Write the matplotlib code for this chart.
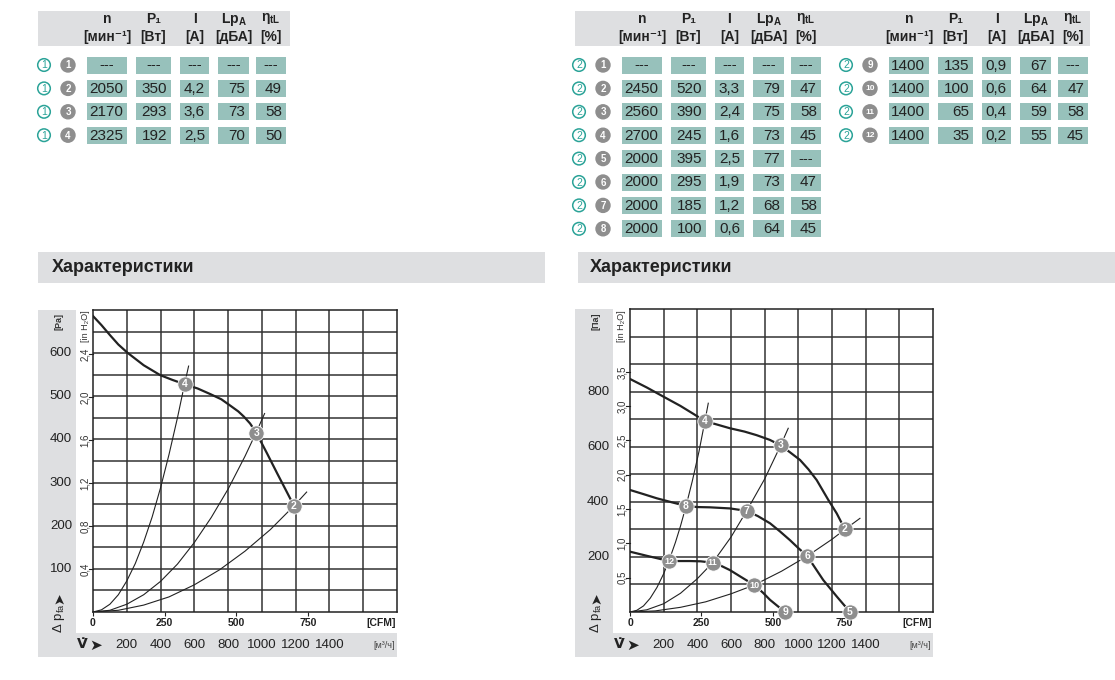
import matplotlib
matplotlib.use("Agg")
import matplotlib.pyplot as plt
import matplotlib.transforms as mtrans
from matplotlib import font_manager
from matplotlib.patches import Rectangle, Circle

names = set(f.name for f in font_manager.fontManager.ttflist)
NARROW = "Liberation Sans Narrow" if "Liberation Sans Narrow" in names else "Liberation Sans"
SANS = "Liberation Sans"

plt.rcParams["font.family"] = [SANS, "DejaVu Sans"]
plt.rcParams["mathtext.fontset"] = "custom"
plt.rcParams["mathtext.rm"] = NARROW
plt.rcParams["mathtext.bf"] = NARROW + ":bold"
plt.rcParams["mathtext.it"] = NARROW + ":italic"

TEAL = "#2ba398"
CELL = "#97c1bb"
BAND = "#dedfe1"
DOT = "#8e8e8e"
INK = "#222222"
M3H_PER_CFM = 1.699
PA_PER_INH2O = 249.09

# ---------------- tables ----------------
t1_ids = ["1", "2", "3", "4"]
t1_n = ["---", "2050", "2170", "2325"]
t1_p = ["---", "350", "293", "192"]
t1_i = ["---", "4,2", "3,6", "2,5"]
t1_lp = ["---", "75", "73", "70"]
t1_eta = ["---", "49", "58", "50"]

t2_ids = ["1", "2", "3", "4", "5", "6", "7", "8"]
t2_n = ["---", "2450", "2560", "2700", "2000", "2000", "2000", "2000"]
t2_p = ["---", "520", "390", "245", "395", "295", "185", "100"]
t2_i = ["---", "3,3", "2,4", "1,6", "2,5", "1,9", "1,2", "0,6"]
t2_lp = ["---", "79", "75", "73", "77", "73", "68", "64"]
t2_eta = ["---", "47", "58", "45", "---", "47", "58", "45"]

t3_ids = ["9", "10", "11", "12"]
t3_n = ["1400", "1400", "1400", "1400"]
t3_p = ["135", "100", "65", "35"]
t3_i = ["0,9", "0,6", "0,4", "0,2"]
t3_lp = ["67", "64", "59", "55"]
t3_eta = ["---", "47", "58", "45"]

head_top = ["n", "P₁", "I", "Lp$_\\mathbf{A}$", "η$_\\mathbf{tL}$"]
head_bot = ["[мин⁻¹]", "[Вт]", "[A]", "[дБА]", "[%]"]

# ---------------- chart 1 (x in m3/h, y in Pa) ----------------
c1_v = [0, 50, 100, 150, 204, 300, 398, 470, 542, 620, 695, 760, 814, 860, 893, 930, 966, 1030, 1091, 1140, 1190]
c1_p = [686, 665, 642, 620, 601, 572, 549, 538, 528, 518, 505, 493, 478, 465, 453, 437, 416, 368, 321, 284, 246]
c1_s4_v = [0, 50, 100, 150, 200, 250, 300, 350, 400, 450, 500, 542, 566]
c1_s4_p = [0, 5, 18, 40, 72, 112, 162, 220, 288, 365, 450, 528, 570]
c1_s3_v = [0, 100, 200, 300, 400, 500, 600, 700, 800, 900, 966, 1016]
c1_s3_p = [0, 4, 18, 40, 71, 111, 161, 219, 285, 361, 416, 460]
c1_s2_v = [0, 150, 300, 450, 600, 750, 900, 1050, 1190, 1265]
c1_s2_p = [0, 4, 16, 35, 63, 98, 141, 191, 246, 278]
c1_pt_v = [542, 966, 1190]
c1_pt_p = [528, 416, 246]
c1_pt_lab = ["4", "3", "2"]

# ---------------- chart 2 ----------------
c2_top_v = [0, 100, 198, 300, 380, 445, 520, 594, 680, 752, 830, 895, 950, 1010, 1060, 1109, 1178, 1228, 1277]
c2_top_p = [846, 815, 782, 748, 718, 693, 680, 667, 655, 642, 625, 605, 580, 552, 518, 479, 407, 358, 300]
c2_mid_v = [0, 80, 158, 250, 333, 400, 475, 594, 693, 760, 832, 890, 950, 1000, 1053, 1100, 1148, 1230, 1307]
c2_mid_p = [443, 428, 413, 398, 385, 381, 380, 376, 367, 348, 322, 293, 261, 232, 203, 160, 116, 55, 0]
c2_low_v = [0, 100, 232, 300, 356, 420, 491, 540, 594, 660, 738, 790, 832, 880, 921]
c2_low_p = [219, 204, 185, 185, 185, 184, 179, 168, 152, 127, 98, 70, 44, 20, 0]
c2_sa_v = [0, 40, 80, 120, 160, 200, 232, 270, 300, 333, 370, 410, 445, 465]
c2_sa_p = [0, 6, 22, 50, 89, 139, 187, 253, 312, 385, 475, 583, 693, 758]
c2_sb_v = [0, 100, 200, 300, 400, 491, 600, 693, 800, 895, 940]
c2_sb_p = [0, 8, 30, 68, 121, 179, 272, 367, 483, 605, 667]
c2_sc_v = [0, 150, 300, 450, 600, 738, 900, 1053, 1200, 1277, 1366]
c2_sc_p = [0, 4, 17, 37, 66, 98, 148, 203, 264, 300, 340]
c2_pt_v = [445, 895, 1277, 333, 693, 1053, 1307, 232, 491, 738, 921]
c2_pt_p = [693, 605, 300, 385, 367, 203, 0, 185, 179, 98, 0]
c2_pt_lab = ["4", "3", "2", "8", "7", "6", "5", "12", "11", "10", "9"]

cfm_ticks = [0, 250, 500, 750]
m3h_labels = [200, 400, 600, 800, 1000, 1200, 1400]

W, H = 1115, 680
fig = plt.figure(figsize=(W / 100, H / 100), dpi=100)
bg = fig.add_axes([0, 0, 1, 1])
bg.set_xlim(0, W)
bg.set_ylim(H, 0)
bg.axis("off")


def badge(x, y, s, filled):
    if filled:
        bg.add_patch(Circle((x, y), 7, color=DOT, zorder=3))
        bg.text(x, y + 0.5, s, color="white", fontsize=7 if len(s) < 2 else 6,
                fontweight="bold", ha="center", va="center", family=NARROW, zorder=4)
    else:
        bg.add_patch(Circle((x, y), 6.3, fill=False, ec=TEAL, lw=1.1, zorder=3))
        bg.text(x, y + 0.5, s, color=TEAL, fontsize=7.5, ha="center", va="center",
                family=SANS, zorder=4)


def table(x0, set_no, ids, cols):
    offs = [0, 49, 93, 131, 169]
    wid = [40, 35, 29, 31, 30]
    for c in range(5):
        xc = x0 + offs[c] + wid[c] / 2
        bg.text(xc, 19, head_top[c], fontsize=10, fontweight="bold", ha="center",
                va="center", family=[NARROW, "DejaVu Sans"], color=INK)
        bg.text(xc, 37, head_bot[c], fontsize=10, fontweight="bold", ha="center",
                va="center", family=[NARROW, "DejaVu Sans"], color=INK)
    for r, rid in enumerate(ids):
        yc = 65 + 23.4 * r
        badge(x0 - 43, yc, set_no, False)
        badge(x0 - 19, yc, rid, True)
        for c in range(5):
            bg.add_patch(Rectangle((x0 + offs[c], yc - 8.5), wid[c], 17, color=CELL, lw=0))
            val = cols[c][r]
            if val == "---":
                bg.text(x0 + offs[c] + wid[c] / 2, yc, val, fontsize=10.5, ha="center",
                        va="center", family=NARROW, color=INK)
            else:
                bg.text(x0 + offs[c] + wid[c] - 4, yc + 0.5, val, fontsize=11, ha="right",
                        va="center", family=NARROW, color=INK)


# header bands of the tables
bg.add_patch(Rectangle((38, 11), 252, 35, color=BAND, lw=0))
bg.add_patch(Rectangle((575, 11), 515, 35, color=BAND, lw=0))
table(87, "1", t1_ids, [t1_n, t1_p, t1_i, t1_lp, t1_eta])
table(622, "2", t2_ids, [t2_n, t2_p, t2_i, t2_lp, t2_eta])
table(889, "2", t3_ids, [t3_n, t3_p, t3_i, t3_lp, t3_eta])

# section titles
bg.add_patch(Rectangle((38, 252), 507, 31, color=BAND, lw=0))
bg.add_patch(Rectangle((578, 252), 537, 31, color=BAND, lw=0))
bg.text(52, 268, "Характеристики", fontsize=13, fontweight="bold", family=NARROW,
        va="center", ha="left", color=INK)
bg.text(590, 268, "Характеристики", fontsize=13, fontweight="bold", family=NARROW,
        va="center", ha="left", color=INK)


def chart(x0, x1, y0, y1, ymax, ystep, pa_ticks, in_ticks, set_no, pa_unit):
    bg.add_patch(Rectangle((x0 - 55, y0), 38, y1 + 21 - y0, color=BAND, lw=0))
    bg.add_patch(Rectangle((x0 - 55, y1 + 21), x1 - x0 + 55, 24, color=BAND, lw=0))
    ax = fig.add_axes([x0 / W, (H - y1) / H, (x1 - x0) / W, (y1 - y0) / H])
    ax.set_xlim(0, 1800)
    ax.set_ylim(0, ymax)
    for v in range(200, 1800, 200):
        ax.axvline(v, color="#333333", lw=1.1, zorder=1)
    for p in range(ystep, ymax, ystep):
        ax.axhline(p, color="#333333", lw=1.1, zorder=1)
    for s in ax.spines.values():
        s.set_color(INK)
        s.set_linewidth(1.1)
    ax.set_yticks([])
    ax.set_xticks([c * M3H_PER_CFM for c in cfm_ticks], [str(c) for c in cfm_ticks])
    ax.tick_params(axis="x", direction="out", length=3, width=0.8, pad=1.5,
                   labelsize=7.5, colors=INK)
    for lab in ax.get_xticklabels():
        lab.set_fontweight("bold")
        lab.set_family(NARROW)

    ty = mtrans.blended_transform_factory(bg.transData, ax.transData)
    tx = mtrans.blended_transform_factory(ax.transData, bg.transData)
    for p in pa_ticks:
        ax.text(x0 - 21, p, str(p), transform=ty, ha="right", va="center",
                fontsize=9.5, color=INK, family=SANS)
    for v in in_ticks:
        ax.text(x0 - 8, v * PA_PER_INH2O, ("%.1f" % v).replace(".", ","), transform=ty,
                rotation=90, ha="center", va="center", fontsize=7, color="#333333",
                family=NARROW)
        ax.plot([x0 - 4, x0], [v * PA_PER_INH2O] * 2, transform=ty, color=INK, lw=0.8,
                clip_on=False)
    bg.text(x0 - 8, 326, "[in H₂O]", rotation=90, ha="center", va="center",
            fontsize=6.5, color="#333333", family=[NARROW, "DejaVu Sans"])
    bg.text(x0 - 34, 321, pa_unit, rotation=90, ha="center", va="center",
            fontsize=6.5, color="#333333", family=NARROW, fontweight="bold")
    bg.text(x0 - 34, 618, "Δ p$_{\\mathrm{fa}}$", rotation=90, ha="center", va="center",
            fontsize=9.5, color=INK, family=SANS)
    bg.text(x0 - 34, 598, "➤", rotation=90, ha="center", va="center",
            fontsize=10, color=INK, family="DejaVu Sans")
    bg.text(x0 - 11, 644, "V̇", ha="center", va="center", fontsize=10,
            fontweight="bold", color=INK, family="DejaVu Sans")
    bg.text(x0 + 3, 645, "➤", ha="center", va="center", fontsize=11,
            color=INK, family="DejaVu Sans")
    for v in m3h_labels:
        ax.text(v, 645, str(v), transform=tx, ha="center", va="center", fontsize=9.5,
                color=INK, family=SANS)
    bg.text(x1 - 2, 645, "[м³/ч]", ha="right", va="center", fontsize=6.5,
            color="#444444", family=[NARROW, "DejaVu Sans"])
    bg.text(x1 - 1, 623, "[CFM]", ha="right", va="center", fontsize=7.5,
            color=INK, family=NARROW, fontweight="bold")
    bg.add_patch(Circle((x1 - 12, y0 + 12), 7, fill=False, ec=TEAL, lw=1.1, zorder=5))
    bg.text(x1 - 12, y0 + 12.5, set_no, color=TEAL, fontsize=7.5, ha="center",
            va="center", family=SANS, zorder=6)
    return ax


def points(ax, vs, ps, labs):
    ax.plot(vs, ps, "o", ms=11, mfc=DOT, mec="white", mew=0.6, zorder=6, clip_on=False)
    for v, p, s in zip(vs, ps, labs):
        ax.text(v, p, s, color="white", fontsize=7.5 if len(s) < 2 else 6.5,
                fontweight="bold", ha="center", va="center", family=NARROW, zorder=7,
                clip_on=False)


ax1 = chart(93, 397, 310, 612, 700, 50, [100, 200, 300, 400, 500, 600],
            [0.4, 0.8, 1.2, 1.6, 2.0, 2.4], "1", "[Pa]")
for v, p in [(c1_s4_v, c1_s4_p), (c1_s3_v, c1_s3_p), (c1_s2_v, c1_s2_p)]:
    ax1.plot(v, p, color=INK, lw=0.8, zorder=3)
ax1.plot(c1_v, c1_p, color=INK, lw=1.6, zorder=4)
points(ax1, c1_pt_v, c1_pt_p, c1_pt_lab)

ax2 = chart(630, 933, 309, 612, 1100, 100, [200, 400, 600, 800],
            [0.5, 1.0, 1.5, 2.0, 2.5, 3.0, 3.5], "2", "[Па]")
for v, p in [(c2_sa_v, c2_sa_p), (c2_sb_v, c2_sb_p), (c2_sc_v, c2_sc_p)]:
    ax2.plot(v, p, color=INK, lw=0.8, zorder=3)
for v, p in [(c2_top_v, c2_top_p), (c2_mid_v, c2_mid_p), (c2_low_v, c2_low_p)]:
    ax2.plot(v, p, color=INK, lw=1.6, zorder=4)
points(ax2, c2_pt_v, c2_pt_p, c2_pt_lab)

fig.savefig("out.png", dpi=100)
